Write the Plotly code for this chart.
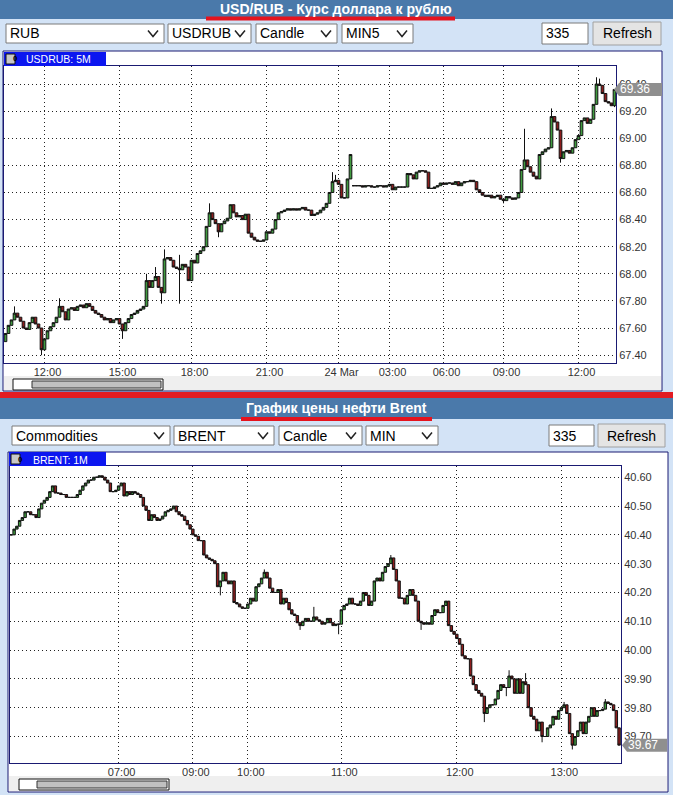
import plotly.graph_objects as go

W, H = 673, 795
FONT = "Liberation Sans, Arial, sans-serif"

# ---------------- data: USD/RUB 5M ----------------
usd_close = [
    67.56, 67.62, 67.66, 67.71, 67.68, 67.65, 67.60, 67.59, 67.64, 67.68,
    67.63, 67.60, 67.44, 67.52, 67.58, 67.61, 67.64, 67.68, 67.76, 67.72,
    67.66, 67.74, 67.75, 67.73, 67.76, 67.77, 67.75, 67.78, 67.76, 67.73,
    67.71, 67.70, 67.68, 67.66, 67.67, 67.64, 67.66, 67.67, 67.63, 67.58,
    67.64, 67.67, 67.70, 67.71, 67.73, 67.74, 67.76, 67.95, 67.90, 67.95,
    67.98, 67.90, 67.86, 68.11, 68.12, 68.10, 68.05, 68.04, 68.03, 68.07,
    68.05, 67.95, 68.10, 68.08, 68.15, 68.17, 68.20, 68.35, 68.45, 68.40,
    68.37, 68.31, 68.37, 68.39, 68.41, 68.51, 68.45, 68.42, 68.43, 68.40,
    68.44, 68.30, 68.27, 68.25, 68.24, 68.24, 68.25, 68.31, 68.30, 68.33,
    68.40, 68.45, 68.46, 68.47, 68.48, 68.47, 68.48, 68.47, 68.48, 68.49,
    68.47, 68.47, 68.43, 68.44, 68.45, 68.47, 68.49, 68.52, 68.60, 68.68,
    68.69, 68.66, 68.56, 68.56, 68.70, 68.88, 68.65, 68.65, 68.65, 68.64,
    68.65, 68.65, 68.64, 68.64, 68.65, 68.65, 68.64, 68.65, 68.66, 68.62,
    68.64, 68.64, 68.64, 68.64, 68.74, 68.73, 68.70, 68.75, 68.76, 68.76,
    68.75, 68.63, 68.63, 68.64, 68.65, 68.67, 68.66, 68.67, 68.67, 68.66,
    68.68, 68.65, 68.67, 68.68, 68.68, 68.69, 68.68, 68.62, 68.60, 68.58,
    68.57, 68.58, 68.56, 68.57, 68.58, 68.55, 68.54, 68.57, 68.56, 68.55,
    68.56, 68.60, 68.77, 68.84, 68.79, 68.75, 68.72, 68.70, 68.88, 68.90,
    68.92, 68.93, 69.16, 69.12, 69.06, 68.85, 68.90, 68.91, 68.89, 68.93,
    68.99, 69.02, 69.13, 69.15, 69.11, 69.14, 69.25, 69.40, 69.39, 69.33,
    69.27, 69.26, 69.24, 69.36,
]
usd_first_open = 67.50
usd_open_gaps = {116: 68.65}
usd_high_wicks = {3: 67.76, 18: 67.82, 47: 68.00, 50: 68.05, 53: 68.18, 58: 68.14,
                  68: 68.52, 109: 68.75, 110: 68.73, 173: 69.07, 182: 69.22,
                  197: 69.45, 198: 69.44}
usd_low_wicks = {12: 67.40, 39: 67.52, 52: 67.78, 58: 67.78, 71: 68.27, 134: 68.64,
                 166: 68.52, 185: 68.82, 203: 69.23}
usd_tick_idx = [13, 38, 62, 87, 111, 128, 146, 166, 191]
usd_tick_text = ["12:00", "15:00", "18:00", "21:00", "24 Mar", "03:00", "06:00", "09:00", "12:00"]
usd_y_ticks = [67.40, 67.60, 67.80, 68.00, 68.20, 68.40, 68.60, 68.80, 69.00, 69.20, 69.40]
usd_y_range = [67.34, 69.533]
usd_last = 69.36

# ---------------- data: BRENT 1M ----------------
brent_close = [
    40.40, 40.42, 40.43, 40.45, 40.46, 40.48, 40.48, 40.47, 40.47, 40.46,
    40.49, 40.51, 40.52, 40.53, 40.55, 40.57, 40.545, 40.545, 40.54, 40.54,
    40.53, 40.53, 40.53, 40.53, 40.54, 40.555, 40.57, 40.58, 40.59, 40.59,
    40.60, 40.60, 40.605, 40.60, 40.59, 40.58, 40.55, 40.55, 40.555, 40.57,
    40.58, 40.535, 40.55, 40.54, 40.55, 40.545, 40.54, 40.53, 40.50, 40.485,
    40.45, 40.47, 40.46, 40.45, 40.455, 40.465, 40.48, 40.485, 40.49, 40.50,
    40.48, 40.47, 40.465, 40.45, 40.435, 40.42, 40.40, 40.395, 40.38, 40.38,
    40.33, 40.32, 40.315, 40.31, 40.30, 40.22, 40.24, 40.27, 40.24, 40.23,
    40.24, 40.165, 40.16, 40.15, 40.145, 40.145, 40.16, 40.18, 40.17, 40.22,
    40.23, 40.25, 40.27, 40.25, 40.215, 40.20, 40.20, 40.21, 40.16, 40.18,
    40.165, 40.14, 40.125, 40.12, 40.095, 40.085, 40.10, 40.11, 40.10, 40.10,
    40.115, 40.105, 40.10, 40.09, 40.095, 40.11, 40.095, 40.085, 40.09, 40.09,
    40.14, 40.155, 40.16, 40.18, 40.16, 40.16, 40.155, 40.17, 40.20, 40.19,
    40.155, 40.17, 40.24, 40.25, 40.24, 40.27, 40.29, 40.30, 40.32, 40.28,
    40.24, 40.18, 40.18, 40.16, 40.19, 40.21, 40.19, 40.17, 40.10, 40.095,
    40.09, 40.095, 40.09, 40.12, 40.14, 40.13, 40.13, 40.155, 40.17, 40.085,
    40.065, 40.055, 40.04, 40.02, 39.98, 39.97, 39.97, 39.91, 39.88, 39.86,
    39.85, 39.84, 39.78, 39.80, 39.81, 39.81, 39.83, 39.86, 39.88, 39.87,
    39.87, 39.91, 39.90, 39.85, 39.90, 39.85, 39.89, 39.88, 39.80, 39.77,
    39.76, 39.72, 39.75, 39.70, 39.70, 39.73, 39.74, 39.77, 39.76, 39.79,
    39.80, 39.81, 39.78, 39.71, 39.67, 39.70, 39.72, 39.75, 39.71, 39.75,
    39.77, 39.80, 39.77, 39.79, 39.79, 39.795, 39.82, 39.815, 39.81, 39.79,
    39.73, 39.67,
]
brent_first_open = 40.40
brent_open_gaps = {}
brent_high_wicks = {92: 40.28, 110: 40.15, 138: 40.33, 181: 39.93, 187: 39.92,
                    201: 39.82, 216: 39.83}
brent_low_wicks = {76: 40.19, 105: 40.07, 119: 40.055, 149: 40.07, 172: 39.75,
                   180: 39.84, 193: 39.68, 204: 39.655}
brent_tick_idx = [39, 66, 86, 120, 162, 200]
brent_tick_text = ["07:00", "09:00", "10:00", "11:00", "12:00", "13:00"]
brent_y_ticks = [39.70, 39.80, 39.90, 40.00, 40.10, 40.20, 40.30, 40.40, 40.50, 40.60]
brent_y_range = [39.607, 40.639]
brent_last = 39.67


def build_ohlc(close, first_open, gaps, hi, lo):
    opens = [first_open] + close[:-1]
    opens = [gaps.get(i, v) for i, v in enumerate(opens)]
    highs = [max(o, c, hi.get(i, c)) for i, (o, c) in enumerate(zip(opens, close))]
    lows = [min(o, c, lo.get(i, c)) for i, (o, c) in enumerate(zip(opens, close))]
    return opens, highs, lows


u_o, u_h, u_l = build_ohlc(usd_close, usd_first_open, usd_open_gaps, usd_high_wicks, usd_low_wicks)
b_o, b_h, b_l = build_ohlc(brent_close, brent_first_open, brent_open_gaps, brent_high_wicks, brent_low_wicks)

GREEN = "#3f9b3f"
RED = "#8e1d1d"
NAVY = "#1a1a72"


def candle(x, o, h, l, c, xa, ya):
    return go.Candlestick(
        x=x, open=o, high=h, low=l, close=c, xaxis=xa, yaxis=ya,
        increasing=dict(line=dict(color="#111", width=1), fillcolor=GREEN),
        decreasing=dict(line=dict(color="#111", width=1), fillcolor=RED),
        whiskerwidth=0, showlegend=False, hoverinfo="skip",
    )


fig = go.Figure()
fig.add_trace(candle(list(range(len(usd_close))), u_o, u_h, u_l, usd_close, "x", "y"))
fig.add_trace(candle(list(range(len(brent_close))), b_o, b_h, b_l, brent_close, "x2", "y2"))

shapes = []
annotations = []


def px(x):
    return x / W


def py(y):
    return 1 - y / H


def rect(x0, y0, x1, y1, fill, line=None, lw=1, layer="below"):
    shapes.append(dict(type="rect", xref="paper", yref="paper",
                       x0=px(x0), x1=px(x1), y0=py(y1), y1=py(y0),
                       fillcolor=fill, layer=layer,
                       line=dict(color=line if line else fill, width=lw if line else 0)))


def hline(x0, x1, y, color, width, layer="above"):
    shapes.append(dict(type="line", xref="paper", yref="paper",
                       x0=px(x0), x1=px(x1), y0=py(y), y1=py(y),
                       line=dict(color=color, width=width), layer=layer))


def text(x, y, s, size=14, color="#000", anchor="left", family=FONT):
    annotations.append(dict(xref="paper", yref="paper", x=px(x), y=py(y), text=s,
                            showarrow=False, xanchor=anchor, yanchor="middle",
                            font=dict(family=family, size=size, color=color)))


def chevron(cx, cy):
    path = (f"M {px(cx - 5)},{py(cy - 3)} L {px(cx)},{py(cy + 3)} "
            f"L {px(cx + 5)},{py(cy - 3)}")
    shapes.append(dict(type="path", xref="paper", yref="paper", path=path,
                       line=dict(color="#222", width=1.5), layer="above"))


def dropdown(x0, x1, y0, y1, label):
    rect(x0, y0, x1, y1, "#ffffff", "#7a7a7a", 1)
    text(x0 + 2, (y0 + y1) / 2, label, 14)
    chevron(x1 - 11, (y0 + y1) / 2)


def controls(y0, boxes, inp, btn):
    for (a, b, lab) in boxes:
        dropdown(a, b, y0 + 1, y0 + 20, lab)
    rect(inp[0], y0, inp[1], y0 + 21, "#ffffff", "#7a7a7a", 1)
    text(inp[0] + 2, y0 + 10.5, "335", 14)
    rect(btn[0], y0 - 1, btn[1], y0 + 22, "#e4e4e4", "#a0a0a0", 1)
    text((btn[0] + btn[1]) / 2, y0 + 10.5, "Refresh", 14, anchor="center")


def marker(tip, right, yaxis_range, top_px, bot_px, val):
    frac = (val - yaxis_range[0]) / (yaxis_range[1] - yaxis_range[0])
    ypx = bot_px - frac * (bot_px - top_px)
    path = (f"M {px(tip)},{py(ypx)} L {px(tip + 5)},{py(ypx - 6.5)} L {px(right)},{py(ypx - 6.5)} "
            f"L {px(right)},{py(ypx + 6.5)} L {px(tip + 5)},{py(ypx + 6.5)} Z")
    shapes.append(dict(type="path", xref="paper", yref="paper", path=path,
                       fillcolor="#8f8f8f", line=dict(width=0), layer="above"))
    text(tip + 4, ypx, f"{val:.2f}", 12, "#ffffff")


# ---------- top section ----------
rect(0, 0, 673, 19, "#4a79aa")
text(336, 9, "<b>USD/RUB - Курс доллара к рублю</b>", 14, "#ffffff", "center")
hline(206, 455, 18.5, "#e5141e", 4)
controls(23, [(6, 164, "RUB"), (168, 251, "USDRUB"), (256, 337, "Candle"), (342, 413, "MIN5")],
         (542, 588), (593, 661))
rect(3, 51, 662, 391, "#ffffff", NAVY, 1)
rect(4, 376, 661, 390, "#efefef")
rect(13, 379, 163, 390, "#ffffff", "#111111", 1)
rect(32, 381, 161, 388, "#c0c0c0", "#333333", 1)
rect(4, 52, 106, 66, "#0c16f0", layer="above")
rect(6, 54, 15, 64, "#c8c8c8", "#111111", 1, layer="above")
text(10.5, 59, "<b>0</b>", 8, "#000")
text(24, 59.5, "USDRUB: 5M", 10.5, "#ffffff")

# separator
rect(0, 392, 673, 398, "#e31b23", layer="above")

# ---------- bottom section ----------
rect(0, 398, 673, 419, "#4a79aa")
text(336, 408, "<b>График цены нефти Brent</b>", 14, "#ffffff", "center")
hline(241, 432, 419, "#e5141e", 4)
controls(425, [(12, 170, "Commodities"), (174, 274, "BRENT"), (279, 362, "Candle"), (366, 438, "MIN")],
         (549, 594), (598, 665))
rect(8, 452, 668, 792, "#ffffff", NAVY, 1)
rect(9, 776, 667, 791, "#efefef")
rect(19, 779, 169, 790, "#ffffff", "#111111", 1)
rect(37, 781, 167, 788, "#c0c0c0", "#333333", 1)
rect(9, 452, 106, 466, "#0c16f0", layer="above")
rect(11, 454, 20, 464, "#c8c8c8", "#111111", 1, layer="above")
text(15.5, 459, "<b>0</b>", 8, "#000")
text(31, 459.5, "BRENT: 1M", 10.5, "#ffffff")

marker(614, 662, usd_y_range, 66, 363.3, usd_last)
marker(622, 667, brent_y_range, 466, 763.3, brent_last)

axis_common = dict(showgrid=True, gridcolor="#222222", gridwidth=1, griddash="1px,3px",
                   showline=True, mirror=True, linecolor=NAVY, linewidth=1,
                   zeroline=False, ticks="", fixedrange=True,
                   tickfont=dict(family=FONT, size=11, color="#333333"))
xaxis_extra = dict(ticklabelshift=3, ticklabelstandoff=-2)

fig.update_layout(
    width=W, height=H, autosize=False,
    margin=dict(l=0, r=0, t=0, b=0),
    paper_bgcolor="#d3e3f6", plot_bgcolor="#ffffff",
    showlegend=False, hovermode=False,
    boxgap=0.12, boxgroupgap=0,
    shapes=shapes, annotations=annotations,
    xaxis=dict(domain=[px(4), px(616)], anchor="y", range=[-0.5, 203.5],
               tickvals=usd_tick_idx, ticktext=usd_tick_text,
               rangeslider=dict(visible=False), **axis_common, **xaxis_extra),
    yaxis=dict(domain=[py(363.3), py(66)], anchor="x", side="right", range=usd_y_range,
               tickvals=usd_y_ticks, tickformat=".2f", **axis_common),
    xaxis2=dict(domain=[px(10), px(621)], anchor="y2", range=[-0.5, 221.7],
                tickvals=brent_tick_idx, ticktext=brent_tick_text,
                rangeslider=dict(visible=False), **axis_common, **xaxis_extra),
    yaxis2=dict(domain=[py(763.3), py(466)], anchor="x2", side="right", range=brent_y_range,
                tickvals=brent_y_ticks, tickformat=".2f", **axis_common),
)

fig.write_html("out.html", config={"displayModeBar": False, "staticPlot": True})

# remove the default page margin so the figure sits at the window's top-left corner
with open("out.html", "r", encoding="utf-8") as f:
    html = f.read()
html = html.replace("<head>", "<head><style>html,body{margin:0;padding:0;overflow:hidden;}</style>", 1)
with open("out.html", "w", encoding="utf-8") as f:
    f.write(html)
